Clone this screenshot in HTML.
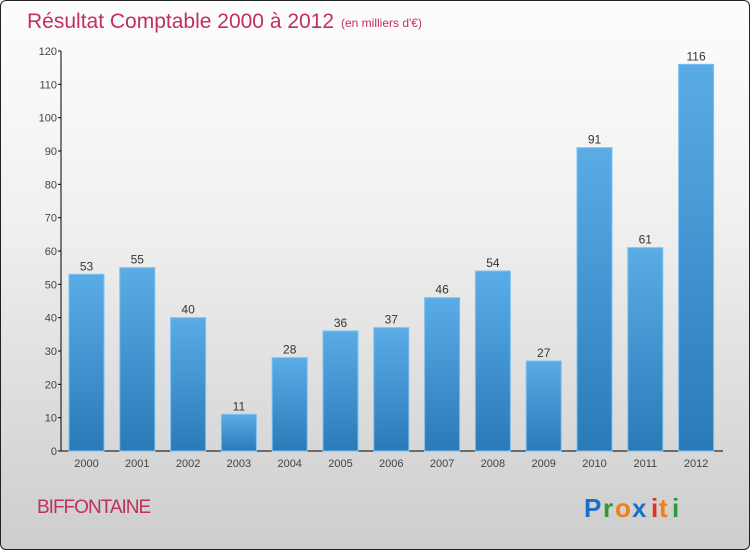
<!DOCTYPE html>
<html><head><meta charset="utf-8"><style>
body{margin:0;width:750px;height:550px;overflow:hidden}
#frame{position:absolute;left:0;top:0;width:748px;height:548px;border:1px solid #222;border-radius:6px;background:linear-gradient(#fdfdfd,#f0f0f0 40%,#cdcdcd);overflow:hidden}
text{font-family:"Liberation Sans",sans-serif}
</style></head><body>
<div id="frame">
<svg id="chart" width="750" height="550">
<defs><linearGradient id="bg" x1="0" y1="0" x2="0" y2="1"><stop offset="0" stop-color="#5aace6"/><stop offset="1" stop-color="#2a7ab8"/></linearGradient></defs>
<text x="26" y="27" font-size="21" fill="#c0305a">Résultat Comptable 2000 à 2012</text>
<text x="340" y="26" font-size="12" fill="#c0305a">(en milliers d'€)</text>
<text x="36" y="512" font-size="19" fill="#c0305a" letter-spacing="-1">BIFFONTAINE</text>
<g font-size="26" font-weight="bold">
<text x="583" y="516" fill="#1a6fc8">P</text><text x="602" y="516" fill="#2a9a3a">r</text><text x="614" y="516" fill="#f08010">o</text><text x="631" y="516" fill="#1a6fc8">x</text><text x="650" y="516" fill="#e03020">i</text><text x="658" y="516" fill="#f08010">t</text><text x="671" y="516" fill="#2a9a3a">i</text>
</g>
<g id="plot"></g>
</svg>
</div>
<script>
const categories=["2000","2001","2002","2003","2004","2005","2006","2007","2008","2009","2010","2011","2012"];
const values=[53,55,40,11,28,36,37,46,54,27,91,61,116];
const yTicks=[0,10,20,30,40,50,60,70,80,90,100,110,120];
const NS="http://www.w3.org/2000/svg";
const g=document.getElementById('plot');
const x0=60,y0=450,yMax=120,ph=400,step=50.8,first=85.5,bw=35;
const y=v=>y0-v/yMax*ph;
const x=i=>first+i*step;
function mk(t,a){const e=document.createElementNS(NS,t);for(const k in a)e.setAttribute(k,a[k]);g.appendChild(e);return e;}
let e=mk('line',{x1:x0,y1:y(yMax),x2:x0,y2:y0,stroke:'#000'});


e=mk('line',{x1:x0,y1:y0,x2:722,y2:y0,stroke:'#000'});


yTicks.forEach(t=>{
 let l=mk('line',{x1:x0-3,y1:y(t),x2:x0,y2:y(t),stroke:'#000'});
 
 
 let s=mk('text',{x:x0-4,y:y(t)+4,'font-size':11,fill:'#444','text-anchor':'end'});
 s.textContent=t;
 
 
});
categories.forEach((c,i)=>{
 const v=values[i];
 let r=mk('rect',{x:x(i)-bw/2,y:y(v),width:bw,height:y0-y(v),fill:'url(#bg)',stroke:'#7cc0f0','stroke-width':1});
 
 
 let t=mk('text',{x:x(i),y:y(v)-4,'font-size':12,fill:'#333','text-anchor':'middle'});
 t.textContent=v;
 
 
 let l=mk('text',{x:x(i),y:y0+16,'font-size':11,fill:'#444','text-anchor':'middle'});
 l.textContent=c;
 
 
});
</script>
</body></html>
